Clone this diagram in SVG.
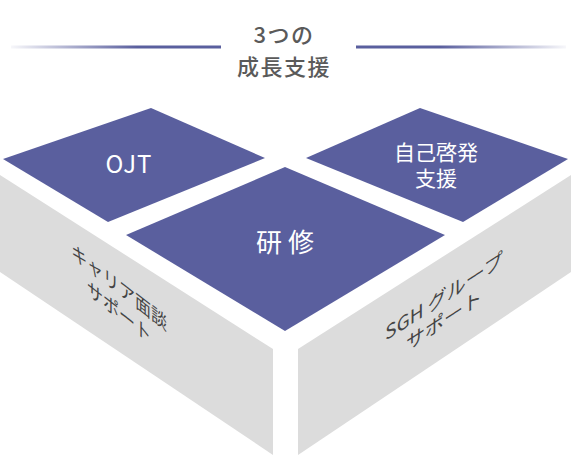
<svg xmlns="http://www.w3.org/2000/svg" width="571" height="465" viewBox="0 0 571 465">
<defs>
<linearGradient id="gl" x1="11" y1="0" x2="221" y2="0" gradientUnits="userSpaceOnUse">
<stop offset="0" stop-color="#5a5f9e" stop-opacity="0.05"/>
<stop offset="0.6" stop-color="#5a5f9e" stop-opacity="1"/>
<stop offset="1" stop-color="#5a5f9e"/>
</linearGradient>
<linearGradient id="gr" x1="566" y1="0" x2="356" y2="0" gradientUnits="userSpaceOnUse">
<stop offset="0" stop-color="#5a5f9e" stop-opacity="0.05"/>
<stop offset="0.6" stop-color="#5a5f9e" stop-opacity="1"/>
<stop offset="1" stop-color="#5a5f9e"/>
</linearGradient>
</defs>
<style>
.top{fill:#5a5f9e}
.side{fill:#dcdcdc}
text{font-family:"Noto Sans CJK JP","Noto Sans",sans-serif}
.wt{fill:#ffffff;text-anchor:middle}
.gt{fill:#444444;text-anchor:middle;font-size:19px}
.tt{fill:#5a5a5a;text-anchor:middle;font-size:22px;font-weight:500;letter-spacing:1.5px}
</style>
<g id="title">
<line x1="11" y1="47" x2="221" y2="47" stroke="url(#gl)" stroke-width="3"/>
<line x1="356" y1="47" x2="566" y2="47" stroke="url(#gr)" stroke-width="3"/>
<text class="tt" x="284" y="43">3つの</text>
<text class="tt" x="284" y="75">成長支援</text>
</g>
<g id="career">
<polygon class="side" points="0,175 273,349 273,455 0,272"/>
<g transform="translate(119,287) skewY(38) scale(0.84,1)">
<text class="gt" x="0" y="7">キャリア面談</text>
<text class="gt" x="0" y="32">サポート</text>
</g>
</g>
<g id="sgh">
<polygon class="side" points="571,175 298,349 298,455 571,272"/>
<g transform="translate(444,296) skewY(-33)">
<text class="gt" x="0" y="7">SGH グループ</text>
<text class="gt" x="0" y="31">サポート</text>
</g>
</g>
<g id="ojt">
<polygon class="top" points="151,108 265,158 108,222 3,159"/>
<text class="wt" x="129" y="173" font-size="24" letter-spacing="1">OJT</text>
</g>
<g id="jiko">
<polygon class="top" points="420,108 568,159 463,222 306,158"/>
<text class="wt" x="436" y="160" font-size="21">自己啓発</text>
<text class="wt" x="436" y="186" font-size="21">支援</text>
</g>
<g id="kenshu">
<polygon class="top" points="285,167 445,235 285,331 126,235"/>
<text class="wt" x="285" y="252" font-size="26">研 修</text>
</g>
</svg>
